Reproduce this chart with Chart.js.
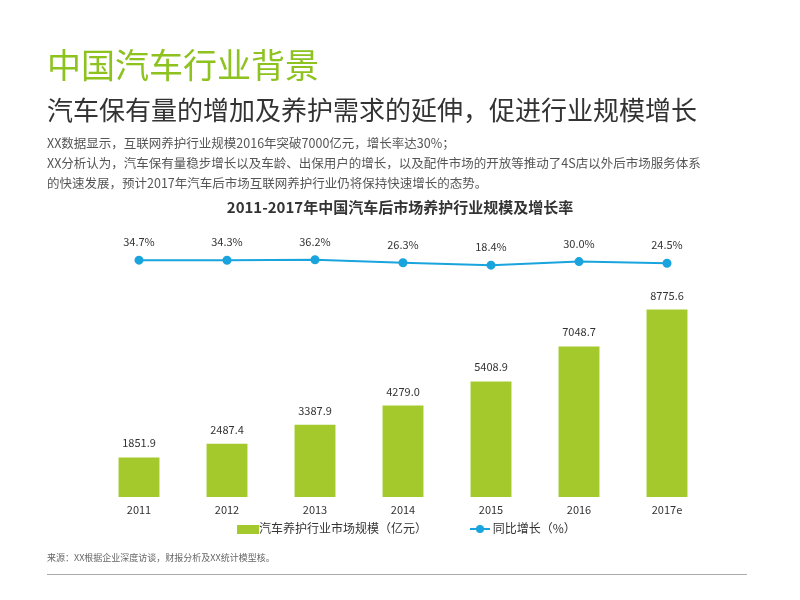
<!DOCTYPE html>
<html><head><meta charset="utf-8">
<script src="https://cdn.jsdelivr.net/npm/chart.js@4"></script>
<style>
body{margin:0;width:800px;height:600px;position:relative;background:#fff;font-family:"Noto Sans CJK SC",sans-serif;overflow:hidden}
.t{position:absolute;white-space:nowrap}
#c{position:absolute;left:0;top:0}
</style></head><body>
<canvas id="c" width="800" height="600"></canvas>
<div class="t" style="left:47px;top:44px;font-size:34px;color:#8dc21f;line-height:40px">中国汽车行业背景</div>
<div class="t" style="left:47px;top:92px;font-size:26px;color:#333;line-height:34px">汽车保有量的增加及养护需求的延伸，促进行业规模增长</div>
<div class="t" style="left:47px;top:133px;font-size:12.5px;color:#555;line-height:20px">XX数据显示，互联网养护行业规模2016年突破7000亿元，增长率达30%；<br>XX分析认为，汽车保有量稳步增长以及车龄、出保用户的增长，以及配件市场的开放等推动了4S店以外后市场服务体系<br>的快速发展，预计2017年汽车后市场互联网养护行业仍将保持快速增长的态势。</div>
<div class="t" style="left:0;width:800px;text-align:center;top:196px;font-size:15px;font-weight:bold;color:#333">2011-2017年中国汽车后市场养护行业规模及增长率</div>
<div class="t" style="left:237px;top:519px;font-size:12px;color:#333;line-height:18px"><span style="display:inline-block;width:22px;height:9px;background:#a4c92c;vertical-align:-1px"></span>汽车养护行业市场规模（亿元）</div>
<div class="t" style="left:470px;top:519px;font-size:12px;color:#333;line-height:18px"><span style="display:inline-block;position:relative;width:20px;height:9px;vertical-align:0px"><span style="position:absolute;left:0;top:4px;width:20px;height:2px;background:#1aa4dd"></span><span style="position:absolute;left:6px;top:1px;width:8px;height:8px;border-radius:50%;background:#1aa4dd"></span></span> 同比增长（%）</div>
<div class="t" style="left:47px;top:551px;font-size:9px;color:#666">来源：XX根据企业深度访谈，财报分析及XX统计模型核。</div>
<div style="position:absolute;left:47px;top:574px;width:700px;height:1px;background:#aaa"></div>
<script>
const categories=["2011","2012","2013","2014","2015","2016","2017e"];
const marketSize=[1851.9,2487.4,3387.9,4279.0,5408.9,7048.7,8775.6];
const growth=[34.7,34.3,36.2,26.3,18.4,30.0,24.5];
const labels={id:'lbl',afterDatasetsDraw(ch){const c=ch.ctx;c.save();c.font='11px "Noto Sans CJK SC"';c.fillStyle='#333';c.textAlign='center';
ch.getDatasetMeta(0).data.forEach((e,i)=>{c.fillText(marketSize[i].toFixed(1),e.x,e.y-10);});
ch.getDatasetMeta(1).data.forEach((e,i)=>{c.fillText(growth[i].toFixed(1)+'%',e.x,e.y-14);});
c.textBaseline='middle';const xs=ch.scales.x;categories.forEach((l,i)=>c.fillText(l,xs.getPixelForValue(i),ch.chartArea.bottom+13));
c.restore();}};
new Chart(document.getElementById('c'),{data:{labels:categories,datasets:[
{type:'bar',data:marketSize,backgroundColor:'#a4c92c',yAxisID:'y',barPercentage:0.93,categoryPercentage:0.5,order:2},
{type:'line',data:growth,borderColor:'#1aa4dd',backgroundColor:'#1aa4dd',borderWidth:2,pointRadius:3.5,yAxisID:'y2',order:1}]},
options:{responsive:false,animation:false,layout:{padding:{left:95,right:89,top:230,bottom:95}},
plugins:{legend:{display:false},tooltip:{enabled:false}},
scales:{x:{grid:{display:false},border:{display:false},ticks:{display:false}},
y:{display:false,min:0,max:12500},y2:{display:false,min:-737,max:133}}},plugins:[labels]});
</script></body></html>
